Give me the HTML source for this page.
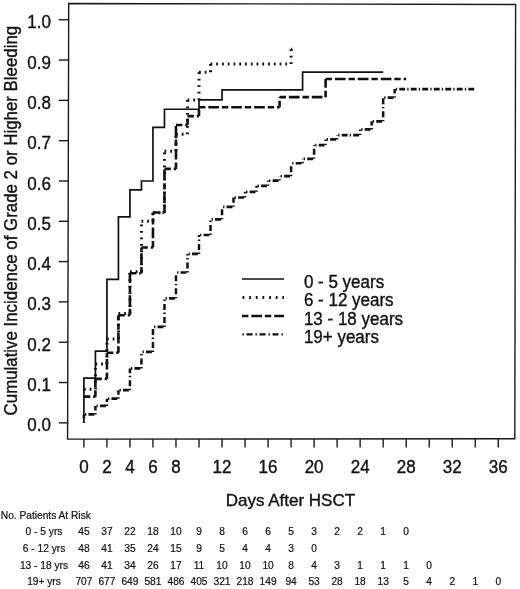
<!DOCTYPE html>
<html><head><meta charset="utf-8"><title>Figure</title>
<style>
html,body{margin:0;padding:0;background:#fff;}
body{width:520px;height:589px;overflow:hidden;}
svg{display:block;filter:blur(0.3px);}
text{font-family:"Liberation Sans",Arial,sans-serif;fill:#111;stroke:#111;stroke-width:0.35px;}
.t11 text{stroke-width:0.2px;}
.t15{font-size:17px;}
.t11{font-size:10.2px;}
</style></head><body>
<svg width="520" height="589" viewBox="0 0 520 589">
<rect width="520" height="589" fill="#fff"/>
<path d="M68.7 3.5L515.6 4.5L514.8 438.8L67.6 439.1Z" fill="none" stroke="#1a1a1a" stroke-width="1.4"/>
<g stroke="#1a1a1a" stroke-width="1.4">
<line x1="58.8" y1="422.85" x2="68.2" y2="422.85"/><line x1="58.8" y1="382.54" x2="68.2" y2="382.54"/><line x1="58.8" y1="342.23" x2="68.2" y2="342.23"/><line x1="58.8" y1="301.92" x2="68.2" y2="301.92"/><line x1="58.8" y1="261.61" x2="68.2" y2="261.61"/><line x1="58.8" y1="221.3" x2="68.2" y2="221.3"/><line x1="58.8" y1="180.99" x2="68.2" y2="180.99"/><line x1="58.8" y1="140.68" x2="68.2" y2="140.68"/><line x1="58.8" y1="100.37" x2="68.2" y2="100.37"/><line x1="58.8" y1="60.06" x2="68.2" y2="60.06"/><line x1="58.8" y1="19.75" x2="68.2" y2="19.75"/>
<line x1="83.9" y1="439" x2="83.9" y2="447.6"/><line x1="106.92" y1="439" x2="106.92" y2="447.6"/><line x1="129.94" y1="439" x2="129.94" y2="447.6"/><line x1="152.96" y1="439" x2="152.96" y2="447.6"/><line x1="175.98" y1="439" x2="175.98" y2="447.6"/><line x1="199.0" y1="439" x2="199.0" y2="447.6"/><line x1="222.02" y1="439" x2="222.02" y2="447.6"/><line x1="245.04" y1="439" x2="245.04" y2="447.6"/><line x1="268.06" y1="439" x2="268.06" y2="447.6"/><line x1="291.08" y1="439" x2="291.08" y2="447.6"/><line x1="314.1" y1="439" x2="314.1" y2="447.6"/><line x1="337.12" y1="439" x2="337.12" y2="447.6"/><line x1="360.14" y1="439" x2="360.14" y2="447.6"/><line x1="383.16" y1="439" x2="383.16" y2="447.6"/><line x1="406.18" y1="439" x2="406.18" y2="447.6"/><line x1="429.2" y1="439" x2="429.2" y2="447.6"/><line x1="452.22" y1="439" x2="452.22" y2="447.6"/><line x1="475.24" y1="439" x2="475.24" y2="447.6"/><line x1="498.26" y1="439" x2="498.26" y2="447.6"/>
</g>
<g class="t15" text-anchor="end">
<text transform="translate(51,431.4) scale(1,1.05)">0.0</text><text transform="translate(51,391.0) scale(1,1.05)">0.1</text><text transform="translate(51,350.7) scale(1,1.05)">0.2</text><text transform="translate(51,310.4) scale(1,1.05)">0.3</text><text transform="translate(51,270.1) scale(1,1.05)">0.4</text><text transform="translate(51,229.8) scale(1,1.05)">0.5</text><text transform="translate(51,189.5) scale(1,1.05)">0.6</text><text transform="translate(51,149.2) scale(1,1.05)">0.7</text><text transform="translate(51,108.9) scale(1,1.05)">0.8</text><text transform="translate(51,68.6) scale(1,1.05)">0.9</text><text transform="translate(51,28.2) scale(1,1.05)">1.0</text>
</g>
<g class="t15" text-anchor="middle">
<text transform="translate(83.9,473.2) scale(1,1.04)">0</text><text transform="translate(106.92,473.2) scale(1,1.04)">2</text><text transform="translate(129.94,473.2) scale(1,1.04)">4</text><text transform="translate(152.96,473.2) scale(1,1.04)">6</text><text transform="translate(175.98,473.2) scale(1,1.04)">8</text><text transform="translate(222.02,473.2) scale(1,1.04)">12</text><text transform="translate(268.06,473.2) scale(1,1.04)">16</text><text transform="translate(314.1,473.2) scale(1,1.04)">20</text><text transform="translate(360.14,473.2) scale(1,1.04)">24</text><text transform="translate(406.18,473.2) scale(1,1.04)">28</text><text transform="translate(452.22,473.2) scale(1,1.04)">32</text><text transform="translate(498.26,473.2) scale(1,1.04)">36</text>
<text x="290.4" y="506.2">Days After HSCT</text>
<text transform="translate(17.1,220.6) rotate(-90) scale(1,1.04)" style="font-size:16.85px">Cumulative Incidence of Grade 2 or Higher Bleeding</text>
</g>
<g fill="none" stroke="#111" stroke-linejoin="miter">
<path d="M83.9 414.38H95.41M95.41 405.92H106.92M106.92 398.66H118.43M118.43 390.2H129.94M129.94 368.43H141.45M141.45 351.9H152.96M152.96 326.91H164.47M164.47 298.29H175.98M175.98 272.49H187.49M187.49 253.95H199.0M199.0 235.01H210.51M210.51 219.28H222.02M222.02 206.79H233.53M233.53 197.52H245.04M245.04 191.87H256.55M256.55 185.83H268.06M268.06 180.59H279.57M279.57 176.15H291.08M291.08 163.25H302.59M302.59 158.82H314.1M314.1 145.11H325.61M325.61 139.47H337.12M337.12 135.04H360.14M360.14 129.39H371.65M371.65 121.33H383.16M383.16 97.55H394.67M394.67 89.08H475.24" stroke-width="2.7" stroke-dasharray="5.9 2.15 1.3 2.16" stroke-dashoffset="6.95"/>
<path d="M83.9 422.85V414.38M95.41 414.38V405.92M106.92 405.92V398.66M118.43 398.66V390.2M129.94 390.2V368.43M141.45 368.43V351.9M152.96 351.9V326.91M164.47 326.91V298.29M175.98 298.29V272.49M187.49 272.49V253.95M199.0 253.95V235.01M210.51 235.01V219.28M222.02 219.28V206.79M233.53 206.79V197.52M245.04 197.52V191.87M256.55 191.87V185.83M268.06 185.83V180.59M279.57 180.59V176.15M291.08 176.15V163.25M302.59 163.25V158.82M314.1 158.82V145.11M325.61 145.11V139.47M337.12 139.47V135.04M360.14 135.04V129.39M371.65 129.39V121.33M383.16 121.33V97.55M394.67 97.55V89.08" stroke-width="2.5" stroke-dasharray="1.4 2.6 6 3"/>
<path d="M83.9 389.27H95.41M95.41 364.08H106.92M106.92 338.88H118.43M118.43 313.61H129.94M129.94 271.69H141.45M141.45 221.3H152.96M152.96 212.83H164.47M164.47 151.16H175.98M175.98 134.23H187.49M187.49 99.97H199.0M199.0 72.15H210.51M210.51 64.09H291.08M291.08 49.18H292.23" stroke-width="3" stroke-dasharray="1.8 3.955"/>
<path d="M95.41 389.27V364.08M106.92 364.08V338.88M118.43 338.88V313.61M129.94 313.61V271.69M141.45 271.69V221.3M152.96 221.3V212.83M164.47 212.83V151.16M175.98 151.16V134.23M187.49 134.23V99.97M199.0 99.97V72.15M210.51 72.15V64.09M291.08 64.09V49.18" stroke-width="3" stroke-dasharray="1.8 4.7"/>
<path d="M83.9 396.65H95.41M95.41 378.91H106.92M106.92 352.71H118.43M118.43 315.22H129.94M129.94 273.3H141.45M141.45 247.5H152.96M152.96 212.43H164.47M164.47 168.9H175.98M175.98 124.96H187.49M187.49 116.09H199.0M199.0 107.22H279.57M279.57 97.15H325.61M325.61 79.01H406.18M95.41 396.65V378.91M106.92 378.91V352.71M118.43 352.71V315.22M129.94 315.22V273.3M141.45 273.3V247.5M152.96 247.5V212.43M164.47 212.43V168.9M175.98 168.9V124.96M187.49 124.96V116.09M199.0 116.09V107.22M279.57 107.22V97.15M325.61 97.15V79.01" stroke-width="2.6" stroke-dasharray="6.4 2.9 10.7 2.9"/>
<path d="M83.9 422.85V378.11H95.41V351.1H106.92V279.35H118.43V216.87H129.94V189.86H141.45V180.99H152.96V127.38H164.47V109.24H199.0V99.97H222.02V89.89H302.59V72.15H383.16" stroke-width="1.7"/>
<path d="M242 279H284" stroke-width="1.5"/>
<path d="M242.5 297.4H284" stroke-width="3" stroke-dasharray="1.8 4.85"/>
<path d="M242 316H284" stroke-width="2.6" stroke-dasharray="6.4 2.9 10.7 2.9"/>
<path d="M242.5 334.4H284" stroke-width="2.2" stroke-dasharray="1.4 2.6 6 3"/>
</g>
<g class="t15">
<text transform="translate(303.9,287.9) scale(1,1.04)">0 - 5 years</text>
<text transform="translate(303.9,306.4) scale(1,1.04)">6 - 12 years</text>
<text transform="translate(303.9,324.9) scale(1,1.04)">13 - 18 years</text>
<text transform="translate(303.9,343.29999999999995) scale(1,1.04)">19+ years</text>
</g>
<g class="t11">
<text x="0.8" y="518.8">No. Patients At Risk</text>
</g>
<g class="t11" text-anchor="middle">
<text x="44" y="535.3">0 - 5 yrs</text><text x="83.9" y="535.3">45</text><text x="106.92" y="535.3">37</text><text x="129.94" y="535.3">22</text><text x="152.96" y="535.3">18</text><text x="175.98" y="535.3">10</text><text x="199.0" y="535.3">9</text><text x="222.02" y="535.3">8</text><text x="245.04" y="535.3">6</text><text x="268.06" y="535.3">6</text><text x="291.08" y="535.3">5</text><text x="314.1" y="535.3">3</text><text x="337.12" y="535.3">2</text><text x="360.14" y="535.3">2</text><text x="383.16" y="535.3">1</text><text x="406.18" y="535.3">0</text>
<text x="44" y="552.0">6 - 12 yrs</text><text x="83.9" y="552.0">48</text><text x="106.92" y="552.0">41</text><text x="129.94" y="552.0">35</text><text x="152.96" y="552.0">24</text><text x="175.98" y="552.0">15</text><text x="199.0" y="552.0">9</text><text x="222.02" y="552.0">5</text><text x="245.04" y="552.0">4</text><text x="268.06" y="552.0">4</text><text x="291.08" y="552.0">3</text><text x="314.1" y="552.0">0</text>
<text x="44" y="568.7">13 - 18 yrs</text><text x="83.9" y="568.7">46</text><text x="106.92" y="568.7">41</text><text x="129.94" y="568.7">34</text><text x="152.96" y="568.7">26</text><text x="175.98" y="568.7">17</text><text x="199.0" y="568.7">11</text><text x="222.02" y="568.7">10</text><text x="245.04" y="568.7">10</text><text x="268.06" y="568.7">10</text><text x="291.08" y="568.7">8</text><text x="314.1" y="568.7">4</text><text x="337.12" y="568.7">3</text><text x="360.14" y="568.7">1</text><text x="383.16" y="568.7">1</text><text x="406.18" y="568.7">1</text><text x="429.2" y="568.7">0</text>
<text x="44" y="585.4">19+ yrs</text><text x="83.9" y="585.4">707</text><text x="106.92" y="585.4">677</text><text x="129.94" y="585.4">649</text><text x="152.96" y="585.4">581</text><text x="175.98" y="585.4">486</text><text x="199.0" y="585.4">405</text><text x="222.02" y="585.4">321</text><text x="245.04" y="585.4">218</text><text x="268.06" y="585.4">149</text><text x="291.08" y="585.4">94</text><text x="314.1" y="585.4">53</text><text x="337.12" y="585.4">28</text><text x="360.14" y="585.4">18</text><text x="383.16" y="585.4">13</text><text x="406.18" y="585.4">5</text><text x="429.2" y="585.4">4</text><text x="452.22" y="585.4">2</text><text x="475.24" y="585.4">1</text><text x="498.26" y="585.4">0</text>
</g>
</svg>
</body></html>
